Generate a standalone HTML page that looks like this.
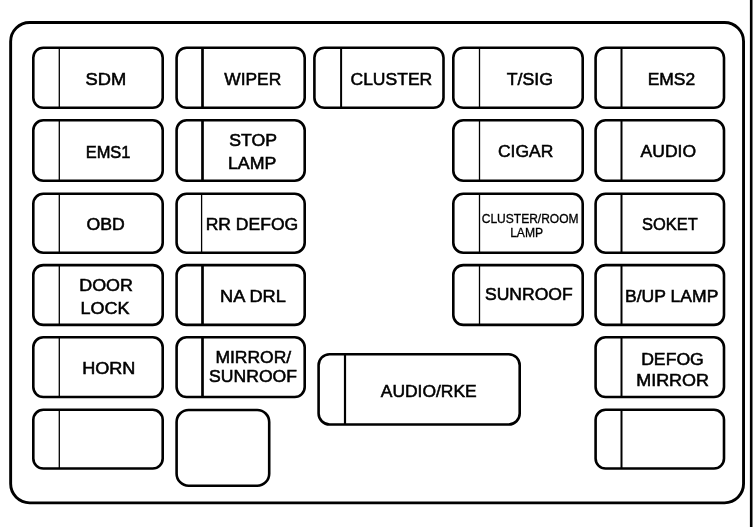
<!DOCTYPE html>
<html><head><meta charset="utf-8"><style>
html,body{margin:0;padding:0;background:#fff;}
svg{display:block;will-change:transform;}
text{font-family:"Liberation Sans",sans-serif;fill:#000;stroke:#000;stroke-width:0.55px;stroke-linejoin:miter;text-anchor:middle;}
</style></head><body>
<svg width="756" height="527" viewBox="0 0 756 527" xmlns="http://www.w3.org/2000/svg">
<rect x="0" y="0" width="756" height="527" fill="#fff"/>
<line x1="751.2" y1="0" x2="751.2" y2="527" stroke="#000" stroke-width="2.6"/>
<rect x="33.30" y="47.70" width="129.40" height="60.10" rx="10" ry="10" fill="none" stroke="#000" stroke-width="2.6"/><line x1="59.3" y1="47.70" x2="59.3" y2="107.80" stroke="#000" stroke-width="1.3"/><rect x="176.60" y="47.70" width="128.10" height="60.10" rx="10" ry="10" fill="none" stroke="#000" stroke-width="2.6"/><line x1="202.5" y1="47.70" x2="202.5" y2="107.80" stroke="#000" stroke-width="2.7"/><rect x="314.40" y="47.70" width="129.10" height="60.10" rx="10" ry="10" fill="none" stroke="#000" stroke-width="2.6"/><line x1="341.1" y1="47.70" x2="341.1" y2="107.80" stroke="#000" stroke-width="2.0"/><rect x="453.30" y="47.70" width="129.40" height="60.10" rx="10" ry="10" fill="none" stroke="#000" stroke-width="2.6"/><line x1="479.5" y1="47.70" x2="479.5" y2="107.80" stroke="#000" stroke-width="1.3"/><rect x="595.60" y="47.70" width="128.40" height="60.10" rx="10" ry="10" fill="none" stroke="#000" stroke-width="2.6"/><line x1="621.5" y1="47.70" x2="621.5" y2="107.80" stroke="#000" stroke-width="2.0"/><rect x="33.30" y="120.30" width="129.40" height="60.40" rx="10" ry="10" fill="none" stroke="#000" stroke-width="2.6"/><line x1="59.3" y1="120.30" x2="59.3" y2="180.70" stroke="#000" stroke-width="1.3"/><rect x="176.60" y="120.30" width="128.10" height="60.40" rx="10" ry="10" fill="none" stroke="#000" stroke-width="2.6"/><line x1="202.5" y1="120.30" x2="202.5" y2="180.70" stroke="#000" stroke-width="2.7"/><rect x="453.30" y="120.30" width="129.40" height="60.40" rx="10" ry="10" fill="none" stroke="#000" stroke-width="2.6"/><line x1="479.5" y1="120.30" x2="479.5" y2="180.70" stroke="#000" stroke-width="1.3"/><rect x="595.60" y="120.30" width="128.40" height="60.40" rx="10" ry="10" fill="none" stroke="#000" stroke-width="2.6"/><line x1="621.5" y1="120.30" x2="621.5" y2="180.70" stroke="#000" stroke-width="2.0"/><rect x="33.30" y="193.80" width="129.40" height="58.90" rx="10" ry="10" fill="none" stroke="#000" stroke-width="2.6"/><line x1="59.3" y1="193.80" x2="59.3" y2="252.70" stroke="#000" stroke-width="1.3"/><rect x="176.60" y="193.80" width="128.10" height="58.90" rx="10" ry="10" fill="none" stroke="#000" stroke-width="2.6"/><line x1="201.6" y1="193.80" x2="201.6" y2="252.70" stroke="#000" stroke-width="1.3"/><rect x="453.30" y="193.80" width="129.40" height="58.90" rx="10" ry="10" fill="none" stroke="#000" stroke-width="2.6"/><line x1="479.5" y1="193.80" x2="479.5" y2="252.70" stroke="#000" stroke-width="1.3"/><rect x="595.60" y="193.80" width="128.40" height="58.90" rx="10" ry="10" fill="none" stroke="#000" stroke-width="2.6"/><line x1="621.5" y1="193.80" x2="621.5" y2="252.70" stroke="#000" stroke-width="2.0"/><rect x="33.30" y="265.10" width="129.40" height="59.80" rx="10" ry="10" fill="none" stroke="#000" stroke-width="2.6"/><line x1="59.3" y1="265.10" x2="59.3" y2="324.90" stroke="#000" stroke-width="1.3"/><rect x="176.60" y="265.10" width="128.10" height="59.80" rx="10" ry="10" fill="none" stroke="#000" stroke-width="2.6"/><line x1="202.5" y1="265.10" x2="202.5" y2="324.90" stroke="#000" stroke-width="2.7"/><rect x="453.30" y="265.10" width="129.40" height="59.80" rx="10" ry="10" fill="none" stroke="#000" stroke-width="2.6"/><line x1="479.5" y1="265.10" x2="479.5" y2="324.90" stroke="#000" stroke-width="1.3"/><rect x="595.60" y="265.10" width="128.40" height="59.80" rx="10" ry="10" fill="none" stroke="#000" stroke-width="2.6"/><line x1="621.5" y1="265.10" x2="621.5" y2="324.90" stroke="#000" stroke-width="2.0"/><rect x="33.30" y="337.30" width="129.40" height="59.70" rx="10" ry="10" fill="none" stroke="#000" stroke-width="2.6"/><line x1="59.3" y1="337.30" x2="59.3" y2="397.00" stroke="#000" stroke-width="1.3"/><rect x="176.60" y="337.30" width="128.10" height="59.70" rx="10" ry="10" fill="none" stroke="#000" stroke-width="2.6"/><line x1="202.5" y1="337.30" x2="202.5" y2="397.00" stroke="#000" stroke-width="2.7"/><rect x="595.60" y="337.30" width="128.40" height="59.70" rx="10" ry="10" fill="none" stroke="#000" stroke-width="2.6"/><line x1="621.5" y1="337.30" x2="621.5" y2="397.00" stroke="#000" stroke-width="2.0"/><rect x="33.30" y="409.80" width="129.40" height="58.70" rx="10" ry="10" fill="none" stroke="#000" stroke-width="2.6"/><line x1="59.3" y1="409.80" x2="59.3" y2="468.50" stroke="#000" stroke-width="1.3"/><rect x="595.60" y="409.80" width="128.40" height="58.70" rx="10" ry="10" fill="none" stroke="#000" stroke-width="2.6"/><line x1="621.5" y1="409.80" x2="621.5" y2="468.50" stroke="#000" stroke-width="2.0"/><rect x="176.60" y="410.00" width="92.60" height="75.70" rx="12" ry="12" fill="none" stroke="#000" stroke-width="2.6"/><rect x="318.60" y="354.20" width="201.10" height="70.30" rx="11" ry="11" fill="none" stroke="#000" stroke-width="2.6"/><line x1="345.0" y1="354.20" x2="345.0" y2="424.50" stroke="#000" stroke-width="2.2"/><rect x="10.65" y="22.45" width="732.90" height="480.40" rx="19" ry="19" fill="none" stroke="#000" stroke-width="2.9"/>
<text x="105.80" y="85.00" font-size="17.4" textLength="40.71" lengthAdjust="spacingAndGlyphs">SDM</text><text x="252.75" y="85.00" font-size="17.4" textLength="56.97" lengthAdjust="spacingAndGlyphs">WIPER</text><text x="391.35" y="85.00" font-size="17.4" textLength="81.72" lengthAdjust="spacingAndGlyphs">CLUSTER</text><text x="529.80" y="85.00" font-size="17.4" textLength="46.27" lengthAdjust="spacingAndGlyphs">T/SIG</text><text x="671.45" y="85.00" font-size="17.4" textLength="47.51" lengthAdjust="spacingAndGlyphs">EMS2</text><text x="108.10" y="157.90" font-size="17.4" textLength="44.81" lengthAdjust="spacingAndGlyphs">EMS1</text><text x="253.05" y="146.30" font-size="17.4" textLength="47.80" lengthAdjust="spacingAndGlyphs">STOP</text><text x="252.20" y="168.50" font-size="17.4" textLength="48.41" lengthAdjust="spacingAndGlyphs">LAMP</text><text x="525.65" y="157.10" font-size="17.4" textLength="55.23" lengthAdjust="spacingAndGlyphs">CIGAR</text><text x="668.35" y="157.10" font-size="17.4" textLength="55.43" lengthAdjust="spacingAndGlyphs">AUDIO</text><text x="105.65" y="230.10" font-size="17.4" textLength="38.24" lengthAdjust="spacingAndGlyphs">OBD</text><text x="251.95" y="229.80" font-size="17.4" textLength="92.55" lengthAdjust="spacingAndGlyphs">RR DEFOG</text><text style="stroke-width:0.3px" x="530.15" y="222.50" font-size="12.3" textLength="96.83" lengthAdjust="spacingAndGlyphs">CLUSTER/ROOM</text><text style="stroke-width:0.3px" x="526.65" y="236.60" font-size="12.3" textLength="33.05" lengthAdjust="spacingAndGlyphs">LAMP</text><text x="669.85" y="229.70" font-size="17.4" textLength="55.70" lengthAdjust="spacingAndGlyphs">SOKET</text><text x="106.10" y="290.70" font-size="17.4" textLength="53.64" lengthAdjust="spacingAndGlyphs">DOOR</text><text x="104.90" y="313.50" font-size="17.4" textLength="49.01" lengthAdjust="spacingAndGlyphs">LOCK</text><text x="252.95" y="302.10" font-size="17.4" textLength="65.78" lengthAdjust="spacingAndGlyphs">NA DRL</text><text x="528.85" y="299.90" font-size="17.4" textLength="87.72" lengthAdjust="spacingAndGlyphs">SUNROOF</text><text x="671.70" y="302.00" font-size="17.4" textLength="93.32" lengthAdjust="spacingAndGlyphs">B/UP LAMP</text><text x="108.80" y="373.70" font-size="17.4" textLength="53.27" lengthAdjust="spacingAndGlyphs">HORN</text><text x="253.30" y="362.60" font-size="17.4" textLength="75.81" lengthAdjust="spacingAndGlyphs">MIRROR/</text><text x="253.05" y="381.50" font-size="17.4" textLength="87.92" lengthAdjust="spacingAndGlyphs">SUNROOF</text><text x="672.50" y="364.50" font-size="17.4" textLength="62.69" lengthAdjust="spacingAndGlyphs">DEFOG</text><text x="672.60" y="386.20" font-size="17.4" textLength="72.78" lengthAdjust="spacingAndGlyphs">MIRROR</text><text x="428.75" y="397.00" font-size="17.4" textLength="96.02" lengthAdjust="spacingAndGlyphs">AUDIO/RKE</text>
</svg>
</body></html>
